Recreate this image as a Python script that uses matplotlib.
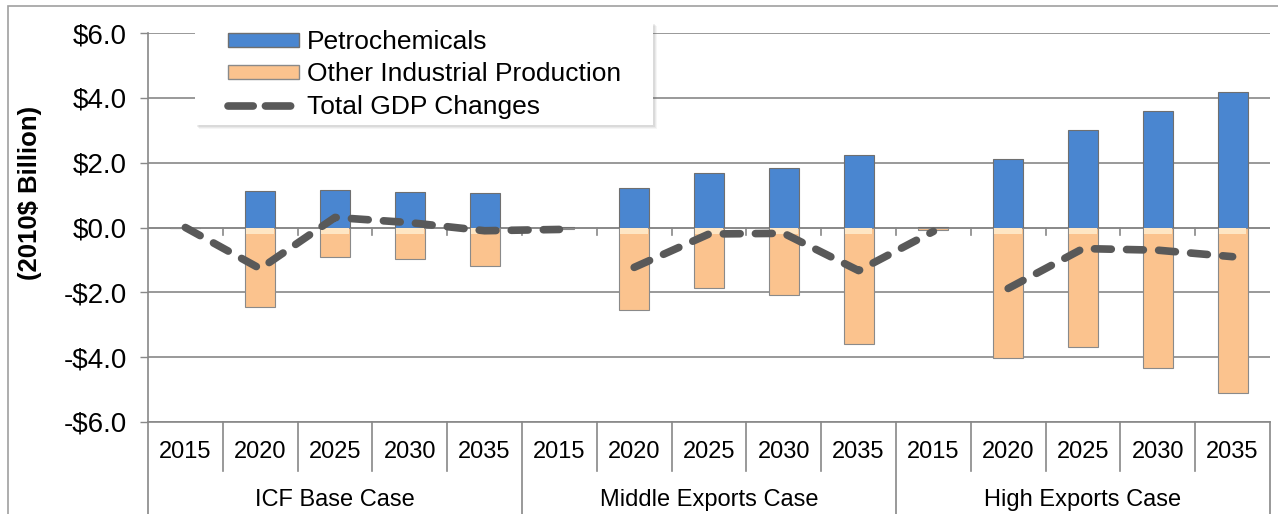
import numpy as np
from matplotlib import pyplot as plt
from matplotlib import patches
from matplotlib.lines import Line2D
from matplotlib.transforms import blended_transform_factory

plt.rcParams['font.family'] = ['Liberation Sans', 'DejaVu Sans']

groups = ['ICF Base Case', 'Middle Exports Case', 'High Exports Case']
years = ['2015', '2020', '2025', '2030', '2035']

petrochem = [0.0, 1.14, 1.17, 1.08, 1.05,
             0.02, 1.23, 1.67, 1.85, 2.25,
             0.02, 2.10, 3.00, 3.58, 4.17]
other_ind = [0.0, -2.44, -0.90, -0.96, -1.20,
             -0.06, -2.53, -1.88, -2.07, -3.58,
             -0.08, -4.04, -3.70, -4.32, -5.09]
total_gdp = [0.0, -1.27, 0.31, 0.15, -0.10,
             -0.06, -1.23, -0.20, -0.18, -1.33,
             -0.12, -1.88, -0.65, -0.70, -0.90]
# the dashed line is broken in the source between these index ranges
line_segments = [(0, 6), (6, 11), (11, 15)]

blue = '#4a86d0'
orange = '#fbc38e'
gray = '#888888'

fig = plt.figure(figsize=(12.78, 5.14), dpi=100)
ax = fig.add_axes([148/1278, 1 - 422/514, (1270 - 148)/1278, (422 - 33)/514])

x = np.arange(len(petrochem))
ax.bar(x, petrochem, width=0.4, color=blue, edgecolor='#6f6f6f', linewidth=0.8, zorder=3)
ax.bar(x, other_ind, width=0.4, color=orange, edgecolor='#8a8a8a', linewidth=0.8, zorder=3)
# light highlight at the top of the orange bars
hl = [-0.2 if v < -0.2 else 0 for v in other_ind]
ax.bar(x, hl, width=0.37, color='#fee6c4', linewidth=0, zorder=3.5)

for a, b in line_segments:
    ax.plot(x[a:b], total_gdp[a:b], color='#595959', lw=5.5, dashes=(2.2, 2.0),
            dash_capstyle='round', solid_capstyle='round', zorder=4)

ax.set_xlim(-0.5, 14.5)
ax.set_ylim(-6, 6)
yt = np.arange(-6, 7, 2)
ax.set_yticks(yt)
ax.set_yticklabels([('-$%.1f' % abs(v)) if v < 0 else ('$%.1f' % v) for v in yt])
ax.tick_params(axis='y', length=6, width=1, color=gray, labelsize=20, pad=9)
ax.set_xticks([])
ax.grid(axis='y', color=gray, lw=1.2, zorder=0)
ax.set_axisbelow(True)
for s in ['top', 'right', 'bottom']:
    ax.spines[s].set_visible(False)
ax.spines['left'].set_color(gray)
ax.spines['left'].set_linewidth(1.2)
ax.axhline(0, color=gray, lw=1.2, zorder=2)

fig.text(30/1278, 1 - 193/514, '(2010$ Billion)', rotation=90, fontsize=18.5,
         fontweight='bold', ha='center', va='center')

trans = blended_transform_factory(ax.transData, ax.transAxes)
# small tick marks on the zero line between categories
for b in np.arange(0.5, 14.5, 1):
    ax.plot([b, b], [0, -0.22], color=gray, lw=1.2, zorder=2)

# category boxes under the plot
ax.plot([-0.5, 14.5], [0, 0], transform=trans, color=gray, lw=1.2, clip_on=False)
ax.plot([-0.5, -0.5], [0, -0.25], transform=trans, color=gray, lw=1.2, clip_on=False)
ax.plot([14.5, 14.5], [0, -0.25], transform=trans, color=gray, lw=1.2, clip_on=False)
for b in np.arange(0.5, 14.5, 1):
    bottom = -0.25 if b in (4.5, 9.5) else -0.125
    ax.plot([b, b], [0, bottom], transform=trans, color=gray, lw=1.2, clip_on=False)
for i in x:
    ax.text(i, -0.077, years[i % 5], transform=trans, ha='center', va='center', fontsize=17)
for g, name in enumerate(groups):
    ax.text(g*5 + 2, -0.2, name, transform=trans, ha='center', va='center', fontsize=17)

# legend box with a soft shadow, drawn by hand so the padding matches
lx, ly, lw_, lh = 195/1278, 1 - 125/514, 458/1278, 103/514
for k, a in enumerate([0.10, 0.08, 0.06]):
    d = (k + 2) / 1278
    fig.patches.append(patches.Rectangle((lx + d, ly - d*1278/514), lw_, lh, transform=fig.transFigure,
                                         facecolor='#606060', alpha=a, lw=0, zorder=5))
fig.patches.append(patches.Rectangle((lx, ly), lw_, lh, transform=fig.transFigure,
                                     facecolor='white', lw=0, zorder=6))

handles = [patches.Patch(facecolor=blue, edgecolor='#6f6f6f'),
           patches.Patch(facecolor=orange, edgecolor='#8a8a8a'),
           Line2D([], [], color='#595959', lw=5.5, dashes=(3.3, 1.6), dash_capstyle='round')]
leg = fig.legend(handles, ['Petrochemicals', 'Other Industrial Production', 'Total GDP Changes'],
                 loc='upper left', bbox_to_anchor=(228/1278, 1 - 30/514),
                 fontsize=19, frameon=False,
                 handlelength=2.7, handleheight=0.45, labelspacing=0.32, borderpad=0,
                 handletextpad=0.3, borderaxespad=0)
leg.set_zorder(7)

fig.patches.append(patches.Rectangle((8/1278, -0.05), 1.1, 1 - 6/514 + 0.05,
                                     transform=fig.transFigure, fill=False,
                                     edgecolor='#a0a0a0', lw=1.2))

fig.savefig('out.png', dpi=100)
